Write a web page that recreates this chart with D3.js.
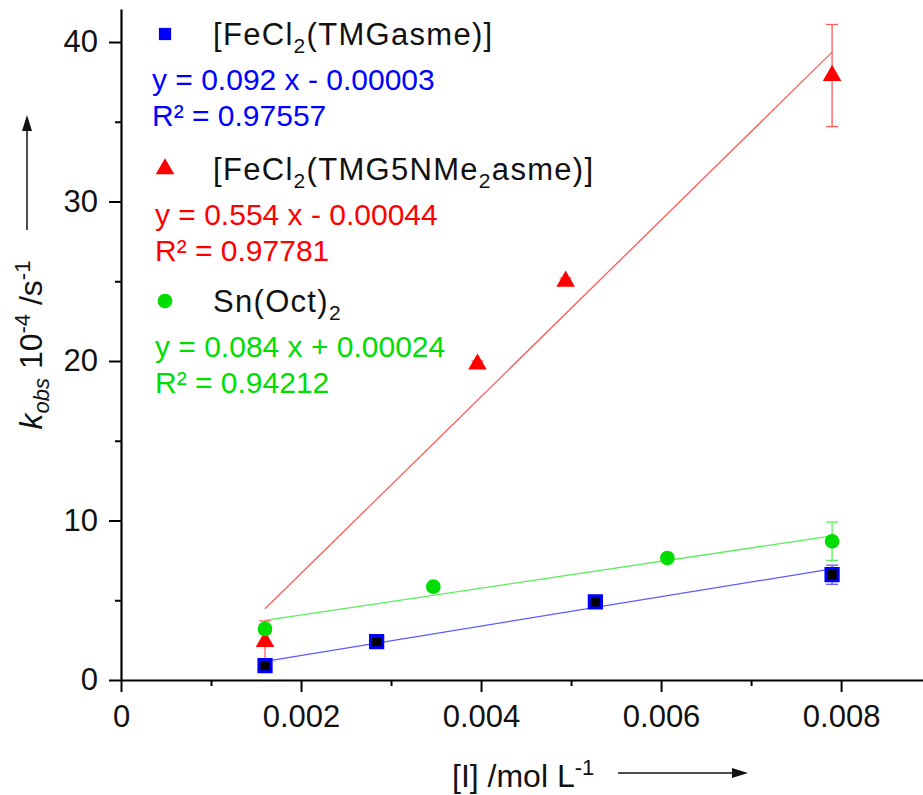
<!DOCTYPE html>
<html>
<head>
<meta charset="utf-8">
<script src="https://cdn.jsdelivr.net/npm/d3@7"></script>
<style>
  body { margin: 0; background: #ffffff; }
  text { font-family: "Liberation Sans", Arial, sans-serif; }
</style>
</head>
<body>
<div id="container"></div>
<script>
let w = 923;
let h = 795;

// data (k_obs in 10^-4 s^-1, [I] in mol/L)
let seriesNames = ["TMGasme", "TMG5NMe2asme", "Sn(Oct)2"];
let seriesColors = ["#0000ff", "#ff0000", "#00dd00"];
let lineColors = ["#5a5aff", "#ff5a5a", "#5aee5a"];

let xTMG = [0.0016, 0.00284, 0.00527, 0.0079];
let yTMG = [0.9, 2.4, 4.9, 6.6];
let eTMG = [0.15, 0.15, 0.15, 0.6];

let xTMG5 = [0.0016, 0.00396, 0.00494, 0.0079];
let yTMG5 = [2.4, 19.8, 25.0, 37.9];
let eTMG5 = [1.3, 0.2, 0.2, 3.2];

let xSn = [0.0016, 0.00347, 0.00607, 0.0079];
let ySn = [3.2, 5.85, 7.65, 8.7];
let eSn = [0.3, 0.2, 0.2, 1.2];

// linear fits from the legend
let fitSlope = [0.092, 0.554, 0.084];
let fitIntercept = [-0.00003, -0.00044, 0.00024];
let fitEquations = ["y = 0.092 x - 0.00003", "y = 0.554 x - 0.00044", "y = 0.084 x + 0.00024"];
let fitR2 = ["R² = 0.97557", "R² = 0.97781", "R² = 0.94212"];

let xMajor = [0, 0.002, 0.004, 0.006, 0.008];
let xMinor = [0.001, 0.003, 0.005, 0.007];
let yMajor = [0, 10, 20, 30, 40];
let yMinor = [5, 15, 25, 35];

let viz = d3.select('#container')
              .append("svg")
                .attr("id","viz")
                .attr("width", w)
                .attr("height", h)
                .style("background-color","#ffffff")
;

let xScale = d3.scaleLinear().domain([0, 0.00891]).range([121, 923]);
let yScale = d3.scaleLinear().domain([0, 42.07]).range([680, 9]);

//axes
//---minor ticks
viz.append("g")
    .attr("transform", "translate(0," + yScale(0) + ")")
    .call(d3.axisBottom(xScale).tickValues(xMinor).tickSize(6).tickSizeOuter(0).tickFormat(""))
    .call(g => g.select(".domain").remove())
    .selectAll("line").attr("stroke-width", 2)
;
viz.append("g")
    .attr("transform", "translate(" + xScale(0) + ",0)")
    .call(d3.axisLeft(yScale).tickValues(yMinor).tickSize(6).tickSizeOuter(0).tickFormat(""))
    .call(g => g.select(".domain").remove())
    .selectAll("line").attr("stroke-width", 2)
;
//---major ticks
let xAxis = viz.append("g")
    .attr("transform", "translate(0," + yScale(0) + ")")
    .call(d3.axisBottom(xScale).tickValues(xMajor).tickSize(12).tickSizeOuter(0).tickPadding(13)
            .tickFormat(d => d == 0 ? "0" : d3.format(".3f")(d)))
;
let yAxis = viz.append("g")
    .attr("transform", "translate(" + xScale(0) + ",0)")
    .call(d3.axisLeft(yScale).tickValues(yMajor).tickSize(12).tickSizeOuter(0).tickPadding(11))
;
[xAxis, yAxis].forEach(a => {
  a.select(".domain").attr("stroke-width", 2.2);
  a.selectAll("line").attr("stroke-width", 2);
  a.selectAll("text")
     .style("font-size", "31px")
     .attr("fill", "#111")
     .style("font-family", "'Liberation Sans', Arial, sans-serif");
});

//fit lines
let xSets = [xTMG, xTMG5, xSn];
let ySets = [yTMG, yTMG5, ySn];
let eSets = [eTMG, eTMG5, eSn];

let fitLine = d3.line().x(d => xScale(d[0])).y(d => yScale(d[1]));
seriesNames.forEach((s, i) => {
  let x0 = d3.min(xSets[i]);
  let x1 = d3.max(xSets[i]);
  let f = x => (fitSlope[i] * x + fitIntercept[i]) * 1e4;
  viz.append("path")
      .attr("d", fitLine([[x0, f(x0)], [x1, f(x1)]]))
      .attr("fill", "none")
      .attr("stroke", lineColors[i])
      .attr("stroke-width", 1.3)
  ;
});

//error bars
seriesNames.forEach((s, i) => {
  let pts = xSets[i].map((x, j) => ({x: x, y: ySets[i][j], e: eSets[i][j]}));
  let eb = viz.append("g").selectAll("g").data(pts).enter().append("g")
               .attr("stroke", lineColors[i])
               .attr("stroke-width", 1.3);
  eb.append("line")
      .attr("x1", d => xScale(d.x)).attr("x2", d => xScale(d.x))
      .attr("y1", d => yScale(d.y - d.e)).attr("y2", d => yScale(d.y + d.e));
  eb.append("line")
      .attr("x1", d => xScale(d.x) - 6).attr("x2", d => xScale(d.x) + 6)
      .attr("y1", d => yScale(d.y + d.e)).attr("y2", d => yScale(d.y + d.e));
  eb.append("line")
      .attr("x1", d => xScale(d.x) - 6).attr("x2", d => xScale(d.x) + 6)
      .attr("y1", d => yScale(d.y - d.e)).attr("y2", d => yScale(d.y - d.e));
});

//markers
let symbols = [d3.symbolSquare, d3.symbolTriangle, d3.symbolCircle];
let symSizes = [150, 150, 170];
seriesNames.forEach((s, i) => {
  let pts = xSets[i].map((x, j) => ({x: x, y: ySets[i][j]}));
  viz.append("g").selectAll("path").data(pts).enter().append("path")
      .attr("d", d3.symbol().type(symbols[i]).size(symSizes[i]))
      .attr("transform", d => "translate(" + xScale(d.x) + "," + yScale(d.y) + ")")
      .attr("fill", i == 0 ? "#000000" : seriesColors[i])
      .attr("stroke", i == 0 ? seriesColors[i] : "none")
      .attr("stroke-width", 3)
  ;
});

//legend
let legendY = [45, 180, 312];
let eqX = [152, 155, 155];
let legendLabels = [
  [["[FeCl", 0], ["2", 1], ["(TMGasme)]", 0]],
  [["[FeCl", 0], ["2", 1], ["(TMG5NMe", 0], ["2", 1], ["asme)]", 0]],
  [["Sn(Oct)", 0], ["2", 1]]
];
seriesNames.forEach((s, i) => {
  let ly = legendY[i];
  viz.append("path")
      .attr("d", d3.symbol().type(symbols[i]).size(symSizes[i]))
      .attr("transform", "translate(165," + (ly - 11) + ")")
      .attr("fill", seriesColors[i])
  ;
  let t = viz.append("text")
      .attr("x", 213)
      .attr("y", ly)
      .attr("fill", "#111")
      .style("font-size", "31px")
      .style("letter-spacing", "1.3px")
  ;
  let shift = 0;
  legendLabels[i].forEach(p => {
    let target = p[1] ? 8 : 0;
    t.append("tspan")
        .attr("dy", target - shift)
        .style("font-size", p[1] ? "21px" : "31px")
        .text(p[0]);
    shift = target;
  });
  viz.append("text")
      .attr("x", eqX[i])
      .attr("y", ly + 45)
      .attr("fill", seriesColors[i])
      .style("font-size", "30px")
      .text(fitEquations[i])
  ;
  viz.append("text")
      .attr("x", eqX[i])
      .attr("y", ly + 81)
      .attr("fill", seriesColors[i])
      .style("font-size", "30px")
      .text(fitR2[i])
  ;
});

//axis labels
//---y
let yl = viz.append("text")
    .attr("transform", "translate(42,345) rotate(-90)")
    .attr("text-anchor", "middle")
    .attr("fill", "#111")
    .style("font-size", "32px")
;
yl.append("tspan").style("font-style", "italic").text("k");
yl.append("tspan").style("font-style", "italic").style("font-size", "22px").attr("dy", 7).text("obs");
yl.append("tspan").attr("dy", -7).text(" 10");
yl.append("tspan").style("font-size", "22px").attr("dy", -12).text("-4");
yl.append("tspan").attr("dy", 12).text(" /s");
yl.append("tspan").style("font-size", "22px").attr("dy", -12).text("-1");

//---x
let xl = viz.append("text")
    .attr("x", 452)
    .attr("y", 787)
    .attr("fill", "#111")
    .style("font-size", "32px")
;
xl.append("tspan").text("[I] /mol L");
xl.append("tspan").style("font-size", "22px").attr("dy", -12).text("-1");

//---arrows
viz.append("line")
    .attr("x1", 27).attr("y1", 230).attr("x2", 27).attr("y2", 128)
    .attr("stroke", "#111").attr("stroke-width", 1.5);
viz.append("path")
    .attr("d", "M27,115 L22,131 L32,131 Z")
    .attr("fill", "#111");
viz.append("line")
    .attr("x1", 618).attr("y1", 773).attr("x2", 734).attr("y2", 773)
    .attr("stroke", "#111").attr("stroke-width", 1.5);
viz.append("path")
    .attr("d", "M748,773 L732,768 L732,778 Z")
    .attr("fill", "#111");
</script>
</body>
</html>
